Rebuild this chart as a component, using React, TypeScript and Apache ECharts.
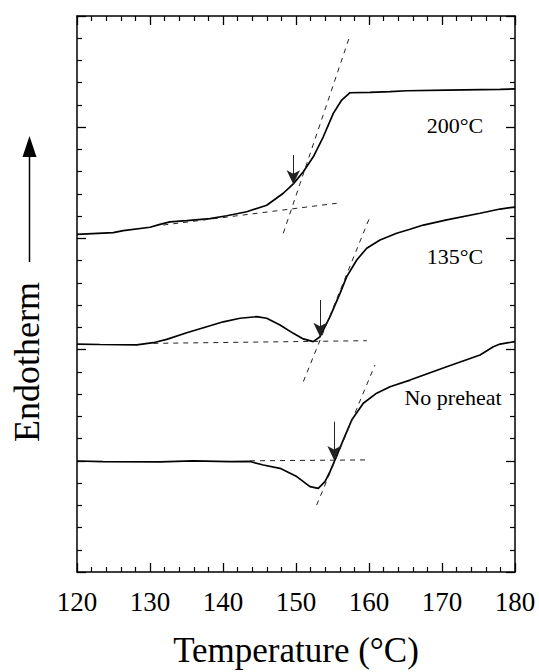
import React, { useEffect, useRef } from "react";
import * as echarts from "echarts";

// Temperature (°C) on x, endotherm (arbitrary units, offset curves) on y
const xTicks = [120, 130, 140, 150, 160, 170, 180];

// 200°C preheat curve
const temp200 = [120, 124.97, 126.34, 130.0, 131.37, 132.74, 135.03, 138.22, 140.51, 143.25, 145.99, 148.26, 149.63, 151.0, 152.37, 153.74, 155.11, 156.26, 157.4, 160.14, 162.88, 165.16, 170.64, 177.95, 180];
const endo200 = [15.18, 15.26, 15.35, 15.5, 15.63, 15.74, 15.8, 15.89, 16.02, 16.2, 16.49, 17.03, 17.45, 18.0, 18.67, 19.57, 20.62, 21.22, 21.55, 21.57, 21.6, 21.64, 21.67, 21.7, 21.72];

// 135°C preheat curve
const temp135 = [120, 123.15, 128.18, 130.45, 132.29, 135.03, 137.77, 140.04, 142.33, 144.62, 145.99, 147.81, 149.63, 151.0, 152.37, 153.29, 154.66, 156.03, 156.95, 158.32, 159.69, 161.51, 163.79, 165.62, 167.44, 170.64, 175.21, 177.95, 180];
const endo135 = [10.25, 10.23, 10.21, 10.31, 10.46, 10.76, 11.03, 11.25, 11.41, 11.48, 11.41, 11.11, 10.73, 10.48, 10.36, 10.58, 11.48, 12.53, 13.28, 14.03, 14.56, 14.93, 15.23, 15.41, 15.6, 15.83, 16.13, 16.32, 16.41];

// No preheat curve
const tempNo = [120, 123.56, 131.37, 135.89, 140.96, 143.7, 145.52, 147.81, 150.1, 151.92, 153.05, 153.97, 154.66, 155.34, 156.48, 157.63, 159.22, 161.05, 162.88, 165.62, 170.64, 175.21, 177.03, 177.95, 180];
const endoNo = [4.99, 4.96, 4.95, 5.0, 4.96, 4.97, 4.81, 4.66, 4.29, 3.84, 3.76, 4.06, 4.51, 5.04, 5.94, 6.83, 7.59, 8.04, 8.33, 8.63, 9.23, 9.76, 10.13, 10.25, 10.36];

// Construction lines (dashed): [x, y] end points
const base200 = [[131.82, 15.6], [155.57, 16.58]];
const tan200 = [[148.26, 15.23], [157.4, 24.13]];
const base135 = [[130.45, 10.28], [159.69, 10.4]];
const tan135 = [[151.0, 8.56], [160.14, 15.98]];
const baseNo = [[143.7, 5.0], [159.69, 5.04]];
const tanNo = [[152.83, 3.01], [160.82, 9.31]];

// Onset arrows: [x, yStart, yEnd]
const onsetArrows = [
  [149.63, 18.75, 17.43],
  [153.29, 12.23, 10.58],
  [155.21, 6.76, 5.04],
];

const curveLabels = ["200°C", "135°C", "No preheat"];

const SERIF = "Liberation Serif";

const zip = (xs: number[], ys: number[]) => xs.map((x, i) => [x, ys[i]]);

export default function App() {
  const ref = useRef<HTMLDivElement>(null);
  useEffect(() => {
    if (!ref.current) return;
    const chart = echarts.init(ref.current, undefined, { renderer: "svg" });

    const xCommon = {
      type: "value" as const,
      min: 120,
      max: 180,
      interval: 10,
      axisLine: { show: true, onZero: false, lineStyle: { color: "#000", width: 1.5 } },
      axisTick: { show: true, inside: true, length: 9, lineStyle: { color: "#000", width: 1.3 } },
      minorTick: { show: true, splitNumber: 5, length: 5, lineStyle: { color: "#000", width: 1.2 } },
      splitLine: { show: false },
      minorSplitLine: { show: false },
    };
    const yCommon = {
      type: "value" as const,
      min: 0,
      max: 25,
      interval: 5,
      axisLine: { show: true, onZero: false, lineStyle: { color: "#000", width: 1.5 } },
      axisTick: { show: true, inside: true, length: 9, lineStyle: { color: "#000", width: 1.3 } },
      minorTick: { show: true, splitNumber: 5, length: 5, lineStyle: { color: "#000", width: 1.2 } },
      splitLine: { show: false },
      minorSplitLine: { show: false },
      axisLabel: { show: false },
    };

    const curve = (name: string, xs: number[], ys: number[]) => ({
      name,
      type: "line",
      data: zip(xs, ys),
      showSymbol: false,
      lineStyle: { color: "#000", width: 1.7 },
      silent: true,
    });
    const dashed = (pts: number[][]) => ({
      type: "line",
      data: pts,
      showSymbol: false,
      lineStyle: { color: "#222", width: 1, type: [5, 5] },
      silent: true,
    });

    const labelStyle = (text: string) => ({
      text,
      fontSize: 22,
      fontFamily: SERIF,
      fill: "#000",
      textAlign: "center",
      textVerticalAlign: "middle",
    });

    chart.setOption({
      animation: false,
      grid: { left: 77, right: 24, top: 16, bottom: 100, containLabel: false, outerBoundsMode: "none" },
      xAxis: [
        {
          ...xCommon,
          position: "bottom",
          axisLabel: { show: true, fontSize: 27, fontFamily: SERIF, color: "#000", margin: 16 },
          name: "Temperature (°C)",
          nameLocation: "middle",
          nameGap: 61,
          nameTextStyle: { fontSize: 35, fontFamily: SERIF, color: "#000" },
          data: xTicks,
        },
        { ...xCommon, position: "top", axisLabel: { show: false } },
      ],
      yAxis: [
        { ...yCommon, position: "left" },
        { ...yCommon, position: "right" },
      ],
      series: [
        curve(curveLabels[0], temp200, endo200),
        curve(curveLabels[1], temp135, endo135),
        curve(curveLabels[2], tempNo, endoNo),
        dashed(base200),
        dashed(tan200),
        dashed(base135),
        dashed(tan135),
        dashed(baseNo),
        dashed(tanNo),
        {
          type: "line",
          data: [],
          markLine: {
            silent: true,
            symbol: ["none", "arrow"],
            symbolSize: [10, 14],
            label: { show: false },
            lineStyle: { color: "#222", width: 1, type: "solid" },
            data: onsetArrows.map(([x, y1, y2]) => [{ coord: [x, y1] }, { coord: [x, y2] }]),
          },
        },
      ],
      graphic: [
        { type: "text", x: 455, y: 125, style: labelStyle(curveLabels[0]) },
        { type: "text", x: 455, y: 256, style: labelStyle(curveLabels[1]) },
        { type: "text", x: 453, y: 397, style: labelStyle(curveLabels[2]) },
        {
          type: "text",
          x: 27,
          y: 362,
          rotation: Math.PI / 2,
          style: { text: "Endotherm", fontSize: 36, fontFamily: SERIF, fill: "#000", textAlign: "center", textVerticalAlign: "middle" },
        },
        {
          type: "line",
          shape: { x1: 29.5, y1: 155, x2: 29.5, y2: 262 },
          style: { stroke: "#000", lineWidth: 1.5 },
        },
        {
          type: "polygon",
          shape: { points: [[29.5, 136], [22.5, 157], [36.5, 157]] },
          style: { fill: "#000" },
        },
      ],
    });
    return () => chart.dispose();
  }, []);
  return <div ref={ref} style={{ position: "absolute", left: 0, top: 0, width: 539, height: 672 }} />;
}
